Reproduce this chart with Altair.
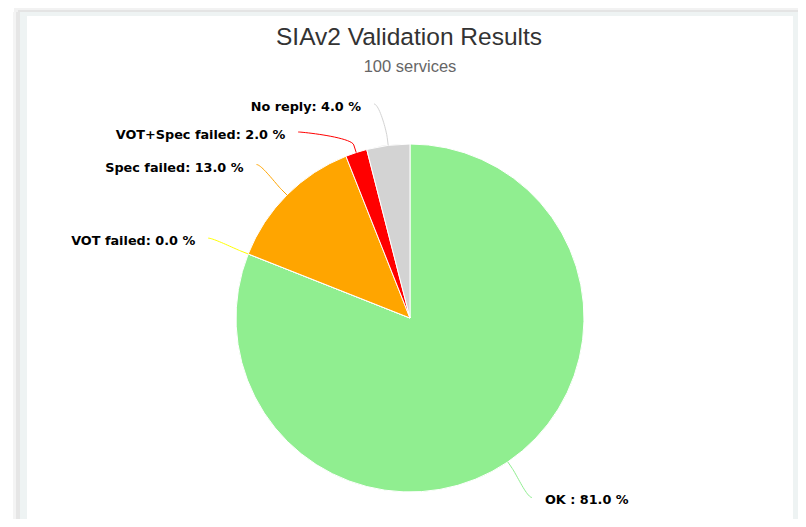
import math
import altair as alt
import pandas as pd

# ---------------- data ----------------
categories = ["OK ", "VOT failed", "Spec failed", "VOT+Spec failed", "No reply"]
values = [81.0, 0.0, 13.0, 2.0, 4.0]
colors = ["#90EE90", "#FFFF00", "#FFA500", "#FF0000", "#D3D3D3"]
title_text = "SIAv2 Validation Results"
subtitle_text = "100 services"

# ---------------- layout (screen pixels) ----------------
W, H = 790, 511          # drawing area (page has 8px margin)
OFF = 8
CX, CY = 410, 318        # pie centre
R = 174                  # pie radius
R_LABEL = 217            # radius where connectors meet the labels
BREAK = 8                # connector bend distance outside the slice
TEXT_GAP = 13
MIN_SPACING = 28
TOP_LIMIT = 104

total = sum(values)
pie_df = pd.DataFrame({"name": categories, "value": values, "idx": range(len(values))})

# label anchors + connectors derived from the slice angles
rows = []
start = 0.0
for i, (name, v) in enumerate(zip(categories, values)):
    frac = v / total
    a = (start + frac / 2) * 2 * math.pi
    start += frac
    s, c = math.sin(a), math.cos(a)
    rows.append(dict(i=i, name=name, v=v, s=s, c=c,
                     ex=CX + R * s, ey=CY - R * c,
                     bx=CX + (R + BREAK) * s, by=CY - (R + BREAK) * c,
                     ny=CY - R_LABEL * c, left=s < 0))

for side in (True, False):
    grp = sorted([r for r in rows if r["left"] == side], key=lambda r: r["ny"])
    prev = None
    for r in grp:
        y = max(r["ny"], TOP_LIMIT)
        if prev is not None:
            y = max(y, prev + MIN_SPACING)
        r["ly"] = y
        prev = y
        dx = math.sqrt(max(R_LABEL ** 2 - (y - CY) ** 2, 0.0))
        r["lx"] = CX - dx if side else CX + dx

line_rows, label_rows = [], []
for r in rows:
    p0 = (r["lx"], r["ly"])
    c1 = (r["lx"] + (5 if r["left"] else -5), r["ly"])
    c2 = (2 * r["bx"] - r["ex"], 2 * r["by"] - r["ey"])
    p3 = (r["bx"], r["by"])
    n = 20
    for k in range(n + 1):
        t = k / n
        mt = 1 - t
        x = mt**3 * p0[0] + 3 * mt**2 * t * c1[0] + 3 * mt * t**2 * c2[0] + t**3 * p3[0]
        y = mt**3 * p0[1] + 3 * mt**2 * t * c1[1] + 3 * mt * t**2 * c2[1] + t**3 * p3[1]
        line_rows.append(dict(name=r["name"], k=k, x=x, y=y))
    line_rows.append(dict(name=r["name"], k=n + 1, x=r["ex"], y=r["ey"]))
    label_rows.append(dict(name=r["name"],
                           text=f"{r['name']}: {r['v']:.1f} %",
                           x=r["lx"] - TEXT_GAP if r["left"] else r["lx"] + TEXT_GAP,
                           y=r["ly"] + 3,
                           side="left" if r["left"] else "right"))

line_df = pd.DataFrame(line_rows)
label_df = pd.DataFrame(label_rows)

xs = alt.Scale(domain=[OFF, OFF + W], nice=False, zero=False)
ys = alt.Scale(domain=[OFF + H, OFF], nice=False, zero=False)
cscale = alt.Scale(domain=categories, range=colors)

one = pd.DataFrame({"a": [0]})

def rect(x1, x2, y1, y2, color, opacity=1.0):
    return alt.Chart(one).mark_rect(color=color, opacity=opacity).encode(
        x=alt.value(x1 - OFF), x2=alt.value(x2 - OFF),
        y=alt.value(y1 - OFF), y2=alt.value(y2 - OFF))

frame = [
    rect(13, 20, 12, 535, "#f4f4f4"),
    rect(16, 20, 10, 535, "#e6e6e6"),
    rect(14, 800, 8, 12, "#f2f2f2"),
    rect(18, 800, 10, 12, "#e4e4e4"),
    rect(20, 800, 12, 535, "#eef3f3"),
    rect(27, 793, 16, 524, "#ffffff"),
]

pie = alt.Chart(pie_df).mark_arc(radius=R, stroke="white", strokeWidth=1).encode(
    theta=alt.Theta("value:Q", stack=True),
    color=alt.Color("name:N", scale=cscale, legend=None),
    order=alt.Order("idx:Q"),
    x=alt.value(CX - OFF), y=alt.value(CY - OFF),
)

connectors = alt.Chart(line_df).mark_line(strokeWidth=1).encode(
    x=alt.X("x:Q", scale=xs, axis=None),
    y=alt.Y("y:Q", scale=ys, axis=None),
    color=alt.Color("name:N", scale=cscale, legend=None),
    detail="name:N",
    order=alt.Order("k:Q"),
)

def labels(side, align):
    return alt.Chart(label_df).transform_filter(alt.datum.side == side).mark_text(
        font="DejaVu Sans", fontWeight="bold", fontSize=12.8, color="#000000",
        align=align, baseline="middle",
    ).encode(
        x=alt.X("x:Q", scale=xs, axis=None),
        y=alt.Y("y:Q", scale=ys, axis=None),
        text="text:N",
    )

title = alt.Chart(pd.DataFrame({"t": [title_text]})).mark_text(
    font="Liberation Sans", fontSize=24.5, color="#333333", align="center", baseline="alphabetic"
).encode(text="t:N", x=alt.value(409 - OFF), y=alt.value(45.3 - OFF))

subtitle = alt.Chart(pd.DataFrame({"t": [subtitle_text]})).mark_text(
    font="Liberation Sans", fontSize=16.5, color="#666666", align="center", baseline="alphabetic"
).encode(text="t:N", x=alt.value(410 - OFF), y=alt.value(71.5 - OFF))

chart = alt.layer(
    *frame, pie, connectors, labels("left", "right"), labels("right", "left"), title, subtitle
).properties(
    width=W, height=H, padding=0, autosize=alt.AutoSizeParams(type="none")
).configure_view(strokeWidth=0)

chart.save("out.html", embed_options={"renderer": "svg", "actions": False})
